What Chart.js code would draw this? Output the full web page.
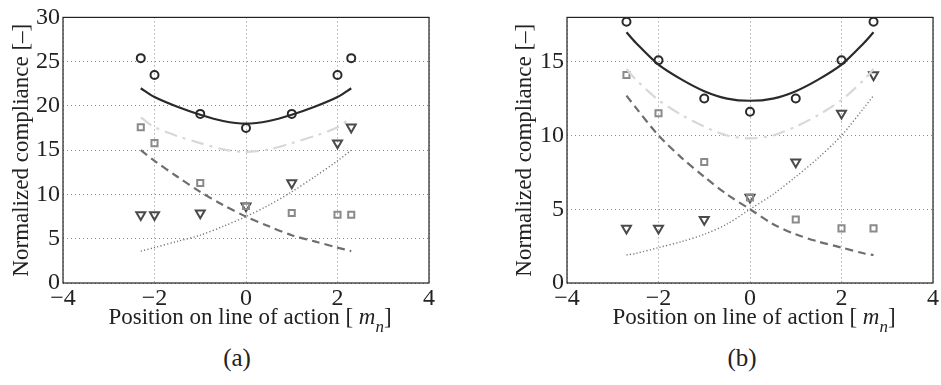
<!DOCTYPE html>
<html>
<head>
<meta charset="utf-8">
<script src="https://cdn.jsdelivr.net/npm/chart.js@4"></script>
<style>
  body { margin: 0; background: #fff; width: 941px; height: 385px; overflow: hidden; }
  .panel { position: absolute; top: 0; }
  .xtitle, .caption { position: absolute; font-family: "Liberation Serif", serif; color: #222; white-space: nowrap; text-align: center; }
  .xtitle { font-size: 23px; top: 304px; }
  .xtitle sub { font-size: 17px; vertical-align: -8px; font-style: italic; }
  .caption { font-size: 25px; top: 344px; }
</style>
</head>
<body>
<div class="panel" style="left:0;width:470px;height:312px"><canvas id="chartA"></canvas></div>
<div class="panel" style="left:470px;width:471px;height:312px"><canvas id="chartB"></canvas></div>
<div class="xtitle" style="left:100px;width:300px">Position on line of action [ <i>m</i><sub>n</sub>]</div>
<div class="xtitle" style="left:604px;width:300px">Position on line of action [ <i>m</i><sub>n</sub>]</div>
<div class="caption" style="left:200px;width:74px">(a)</div>
<div class="caption" style="left:705px;width:74px">(b)</div>
<script>
// shared ticks
const xTicks = [-4, -2, 0, 2, 4];
const yTicksA = [0, 5, 10, 15, 20, 25, 30];
const yTicksB = [0, 5, 10, 15];

// (a) measured points
const xA = [-2.3, -2, -1, 0, 1, 2, 2.3];
const circlesA = [25.4, 23.5, 19.1, 17.5, 19.1, 23.5, 25.4];
const squaresA = [17.6, 15.8, 11.3, 8.7, 7.9, 7.7, 7.7];
const trianglesA = [7.7, 7.7, 7.9, 8.7, 11.3, 15.8, 17.6];
// (a) fitted curves
const fitXA = [-2.3, -2, -1.5, -1, -0.5, 0, 0.5, 1, 1.5, 2, 2.3];
const solidA = [22.0, 21.0, 19.9, 19.0, 18.3, 18.0, 18.3, 19.0, 19.9, 21.0, 22.0];
const dashDotA = [18.7, 17.6, 16.6, 15.8, 15.1, 14.8, 15.1, 15.8, 16.6, 17.6, 18.7];
const dashedA = [15.0, 13.8, 12.0, 10.3, 8.8, 7.5, 6.4, 5.4, 4.7, 4.0, 3.6];
const dottedA = [3.6, 4.0, 4.7, 5.4, 6.4, 7.5, 8.8, 10.3, 12.0, 13.8, 15.0];

// (b) measured points
const xB = [-2.7, -2, -1, 0, 1, 2, 2.7];
const circlesB = [17.7, 15.1, 12.5, 11.6, 12.5, 15.1, 17.7];
const squaresB = [14.1, 11.5, 8.2, 5.8, 4.3, 3.7, 3.7];
const trianglesB = [3.7, 3.7, 4.3, 5.8, 8.2, 11.5, 14.1];
// (b) fitted curves
const fitXB = [-2.7, -2.5, -2, -1.5, -1, -0.5, 0, 0.5, 1, 1.5, 2, 2.5, 2.7];
const solidB = [17.0, 16.3, 14.8, 13.8, 13.0, 12.5, 12.35, 12.5, 13.0, 13.8, 14.8, 16.3, 17.0];
const dashDotB = [14.5, 13.8, 12.4, 11.4, 10.6, 10.0, 9.8, 10.0, 10.6, 11.4, 12.4, 13.8, 14.5];
const dashedB = [12.7, 11.9, 10.0, 8.5, 7.2, 6.0, 5.0, 4.0, 3.3, 2.8, 2.4, 2.0, 1.9];
const dottedB = [1.9, 2.0, 2.4, 2.8, 3.3, 4.0, 5.0, 6.0, 7.2, 8.5, 10.0, 11.9, 12.7];

const serif = '"Liberation Serif", "Times New Roman", serif';

function pts(xs, ys) {
    return xs.map((x, i) => ({ x: x, y: ys[i] }));
}

function lineSet(xs, ys, color, width, dash) {
    return {
        data: pts(xs, ys), showLine: true, pointRadius: 0,
        borderColor: color, borderWidth: width, borderDash: dash,
        tension: 0.3, fill: false
    };
}

function markerSet(xs, ys, style, color, radius, rotation) {
    return {
        data: pts(xs, ys), showLine: false, pointStyle: style,
        pointRadius: radius, pointRotation: rotation || 0,
        pointBorderColor: color, pointBackgroundColor: 'rgba(255,255,255,0)',
        pointBorderWidth: 2
    };
}

// draws the closed axes box like matlab
const frame = {
    id: 'frame',
    afterDraw(chart) {
        const a = chart.chartArea, c = chart.ctx;
        c.save();
        c.strokeStyle = '#222';
        c.lineWidth = 1.2;
        c.strokeRect(a.left, a.top, a.right - a.left, a.bottom - a.top);
        c.restore();
    }
};

function makeChart(id, o) {
    const ctx = document.getElementById(id).getContext('2d');
    return new Chart(ctx, {
        type: 'scatter',
        data: {
            datasets: [
                lineSet(o.fitX, o.dashDot, '#d8d8d8', 2.2, [13, 6, 3, 6]),
                lineSet(o.fitX, o.dashed, '#6e6e6e', 2.2, [8, 5]),
                lineSet(o.fitX, o.dotted, '#777', 1.4, [1.2, 2.2]),
                lineSet(o.fitX, o.solid, '#2a2a2a', 2.2, []),
                markerSet(o.x, o.squares, 'rect', '#8a8a8a', 4.3),
                markerSet(o.x, o.triangles, 'triangle', '#4a4a4a', 5.2, 180),
                markerSet(o.x, o.circles, 'circle', '#2a2a2a', 4)
            ]
        },
        options: {
            responsive: true,
            maintainAspectRatio: false,
            animation: false,
            layout: { padding: o.padding },
            plugins: { legend: { display: false }, tooltip: { enabled: false } },
            scales: {
                x: {
                    type: 'linear', min: -4, max: 4,
                    afterBuildTicks: s => { s.ticks = xTicks.map(v => ({ value: v })); },
                    afterFit: s => { s.height = 29; },
                    grid: { color: '#8a8a8a', lineWidth: 1, drawTicks: false },
                    border: { display: false, dash: [1, 3] },
                    ticks: {
                        padding: 1, color: '#222', font: { family: serif, size: 24 },
                        maxRotation: 0,
                        callback: v => v < 0 ? '\u2212' + Math.abs(v) : String(v)
                    }
                },
                y: {
                    type: 'linear', min: 0, max: o.yMax,
                    afterBuildTicks: s => { s.ticks = o.yTicks.map(v => ({ value: v })); },
                    afterFit: s => { s.width = o.yWidth; },
                    grid: { color: '#8a8a8a', lineWidth: 1, drawTicks: false },
                    border: { display: false, dash: [1, 3] },
                    ticks: { padding: 3, color: '#222', font: { family: serif, size: 24 } },
                    title: {
                        display: true, text: 'Normalized compliance [\u2013]', color: '#222',
                        font: { family: serif, size: 23 }, padding: { top: o.titlePad, bottom: 0 }
                    }
                }
            }
        },
        plugins: [frame]
    });
}

makeChart('chartA', {
    x: xA, circles: circlesA, squares: squaresA, triangles: trianglesA,
    fitX: fitXA, solid: solidA, dashDot: dashDotA, dashed: dashedA, dotted: dottedA,
    yMax: 30, yTicks: yTicksA, yWidth: 63, titlePad: 8,
    padding: { top: 14, right: 41, left: 0, bottom: 0 }
});

makeChart('chartB', {
    x: xB, circles: circlesB, squares: squaresB, triangles: trianglesB,
    fitX: fitXB, solid: solidB, dashDot: dashDotB, dashed: dashedB, dotted: dottedB,
    yMax: 18, yTicks: yTicksB, yWidth: 62, titlePad: 6,
    padding: { top: 14, right: 8, left: 35, bottom: 0 }
});
</script>
</body>
</html>
